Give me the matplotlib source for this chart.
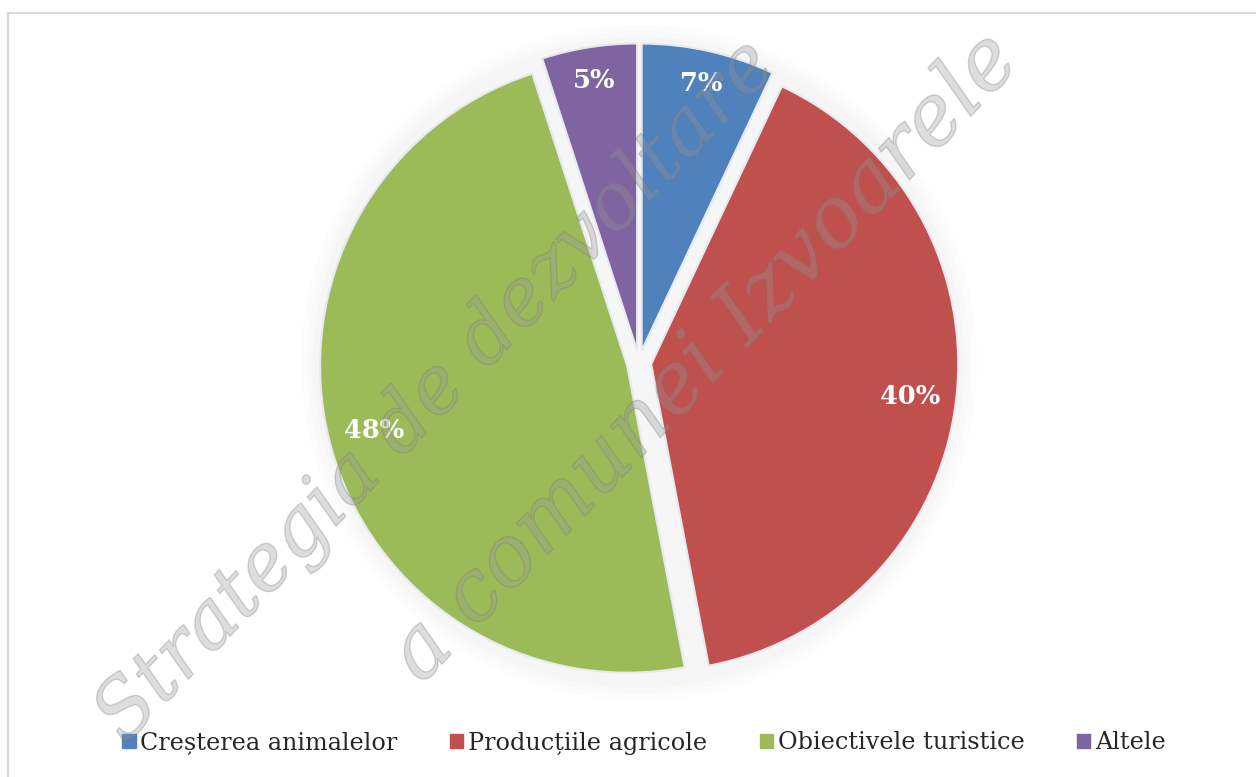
import matplotlib
matplotlib.use("Agg")
import matplotlib.pyplot as plt
import matplotlib.patheffects as pe
from matplotlib.patches import Rectangle
import numpy as np

categories = ["Creșterea animalelor", "Producțiile agricole", "Obiectivele turistice", "Altele"]
values = [7, 40, 48, 5]
colors = ["#4F81BD", "#C0504D", "#9BBB59", "#8064A2"]
label_dist = [0.89, 0.85, 0.85, 0.89]

fig = plt.figure(figsize=(12.56, 7.77), dpi=100)
fig.patch.set_facecolor("white")

# outer frame
fig.add_artist(Rectangle((8/1256, -0.01), 1.2, (777-13)/777 + 0.01, transform=fig.transFigure,
                         fill=False, edgecolor="#d9d9d9", linewidth=1.5))

W, H = 1256, 777
cx, cy, half = 639, 362.6, 337.7
ax = fig.add_axes([(cx-half)/W, (H-cy-half)/H, 2*half/W, 2*half/H])
ax.axis("off")

explode = [0.04]*4
wedges, _ = ax.pie(values, colors=colors, startangle=90, counterclock=False,
                   explode=explode, radius=1.0,
                   wedgeprops=dict(edgecolor="#e6e9f0", linewidth=1.5))
ax.set_xlim(-1.1, 1.1)
ax.set_ylim(-1.1, 1.1)
ax.set_aspect("equal")
# soft shadow/halo
for r, a in [(1.10, 0.03), (1.08, 0.04), (1.06, 0.05)]:
    ax.add_patch(plt.Circle((0, 0), r, color="#bfbfbf", alpha=a, lw=0, zorder=0))

for w, v, d, e in zip(wedges, values, label_dist, explode):
    ang = np.deg2rad((w.theta1 + w.theta2) / 2)
    x = (d + e) * np.cos(ang)
    y = (d + e) * np.sin(ang)
    ax.text(x, y, f"{v}%", ha="center", va="center", color="white",
            fontsize=18.5, fontweight="bold", family="DejaVu Serif", zorder=5)

# legend
handles = [Rectangle((0, 0), 1, 1, color=c) for c in colors]
leg = fig.legend(handles, categories, loc="center", bbox_to_anchor=(644/W, 1-743/H),
                 ncol=4, frameon=False, handlelength=0.55, handleheight=0.55,
                 handletextpad=0.2, columnspacing=2.2,
                 prop=dict(family="DejaVu Serif", size=17.2))
for t in leg.get_texts():
    t.set_color("#262626")

# watermark
wm = dict(rotation=46, rotation_mode="anchor", ha="center", va="center",
          family="DejaVu Serif", style="italic",
          color=(0.6, 0.6, 0.6, 0.18), transform=fig.transFigure, zorder=10,
          path_effects=[pe.withStroke(linewidth=1.0, foreground=(0.45, 0.45, 0.45, 0.3))])
fig.text(436/W, 1-392/H, "Strategia de dezvoltare", fontsize=57, **wm)
fig.text(705/W, 1-358/H, "a comunei Izvoarele", fontsize=61, **wm)

fig.savefig("out.png", dpi=100)
